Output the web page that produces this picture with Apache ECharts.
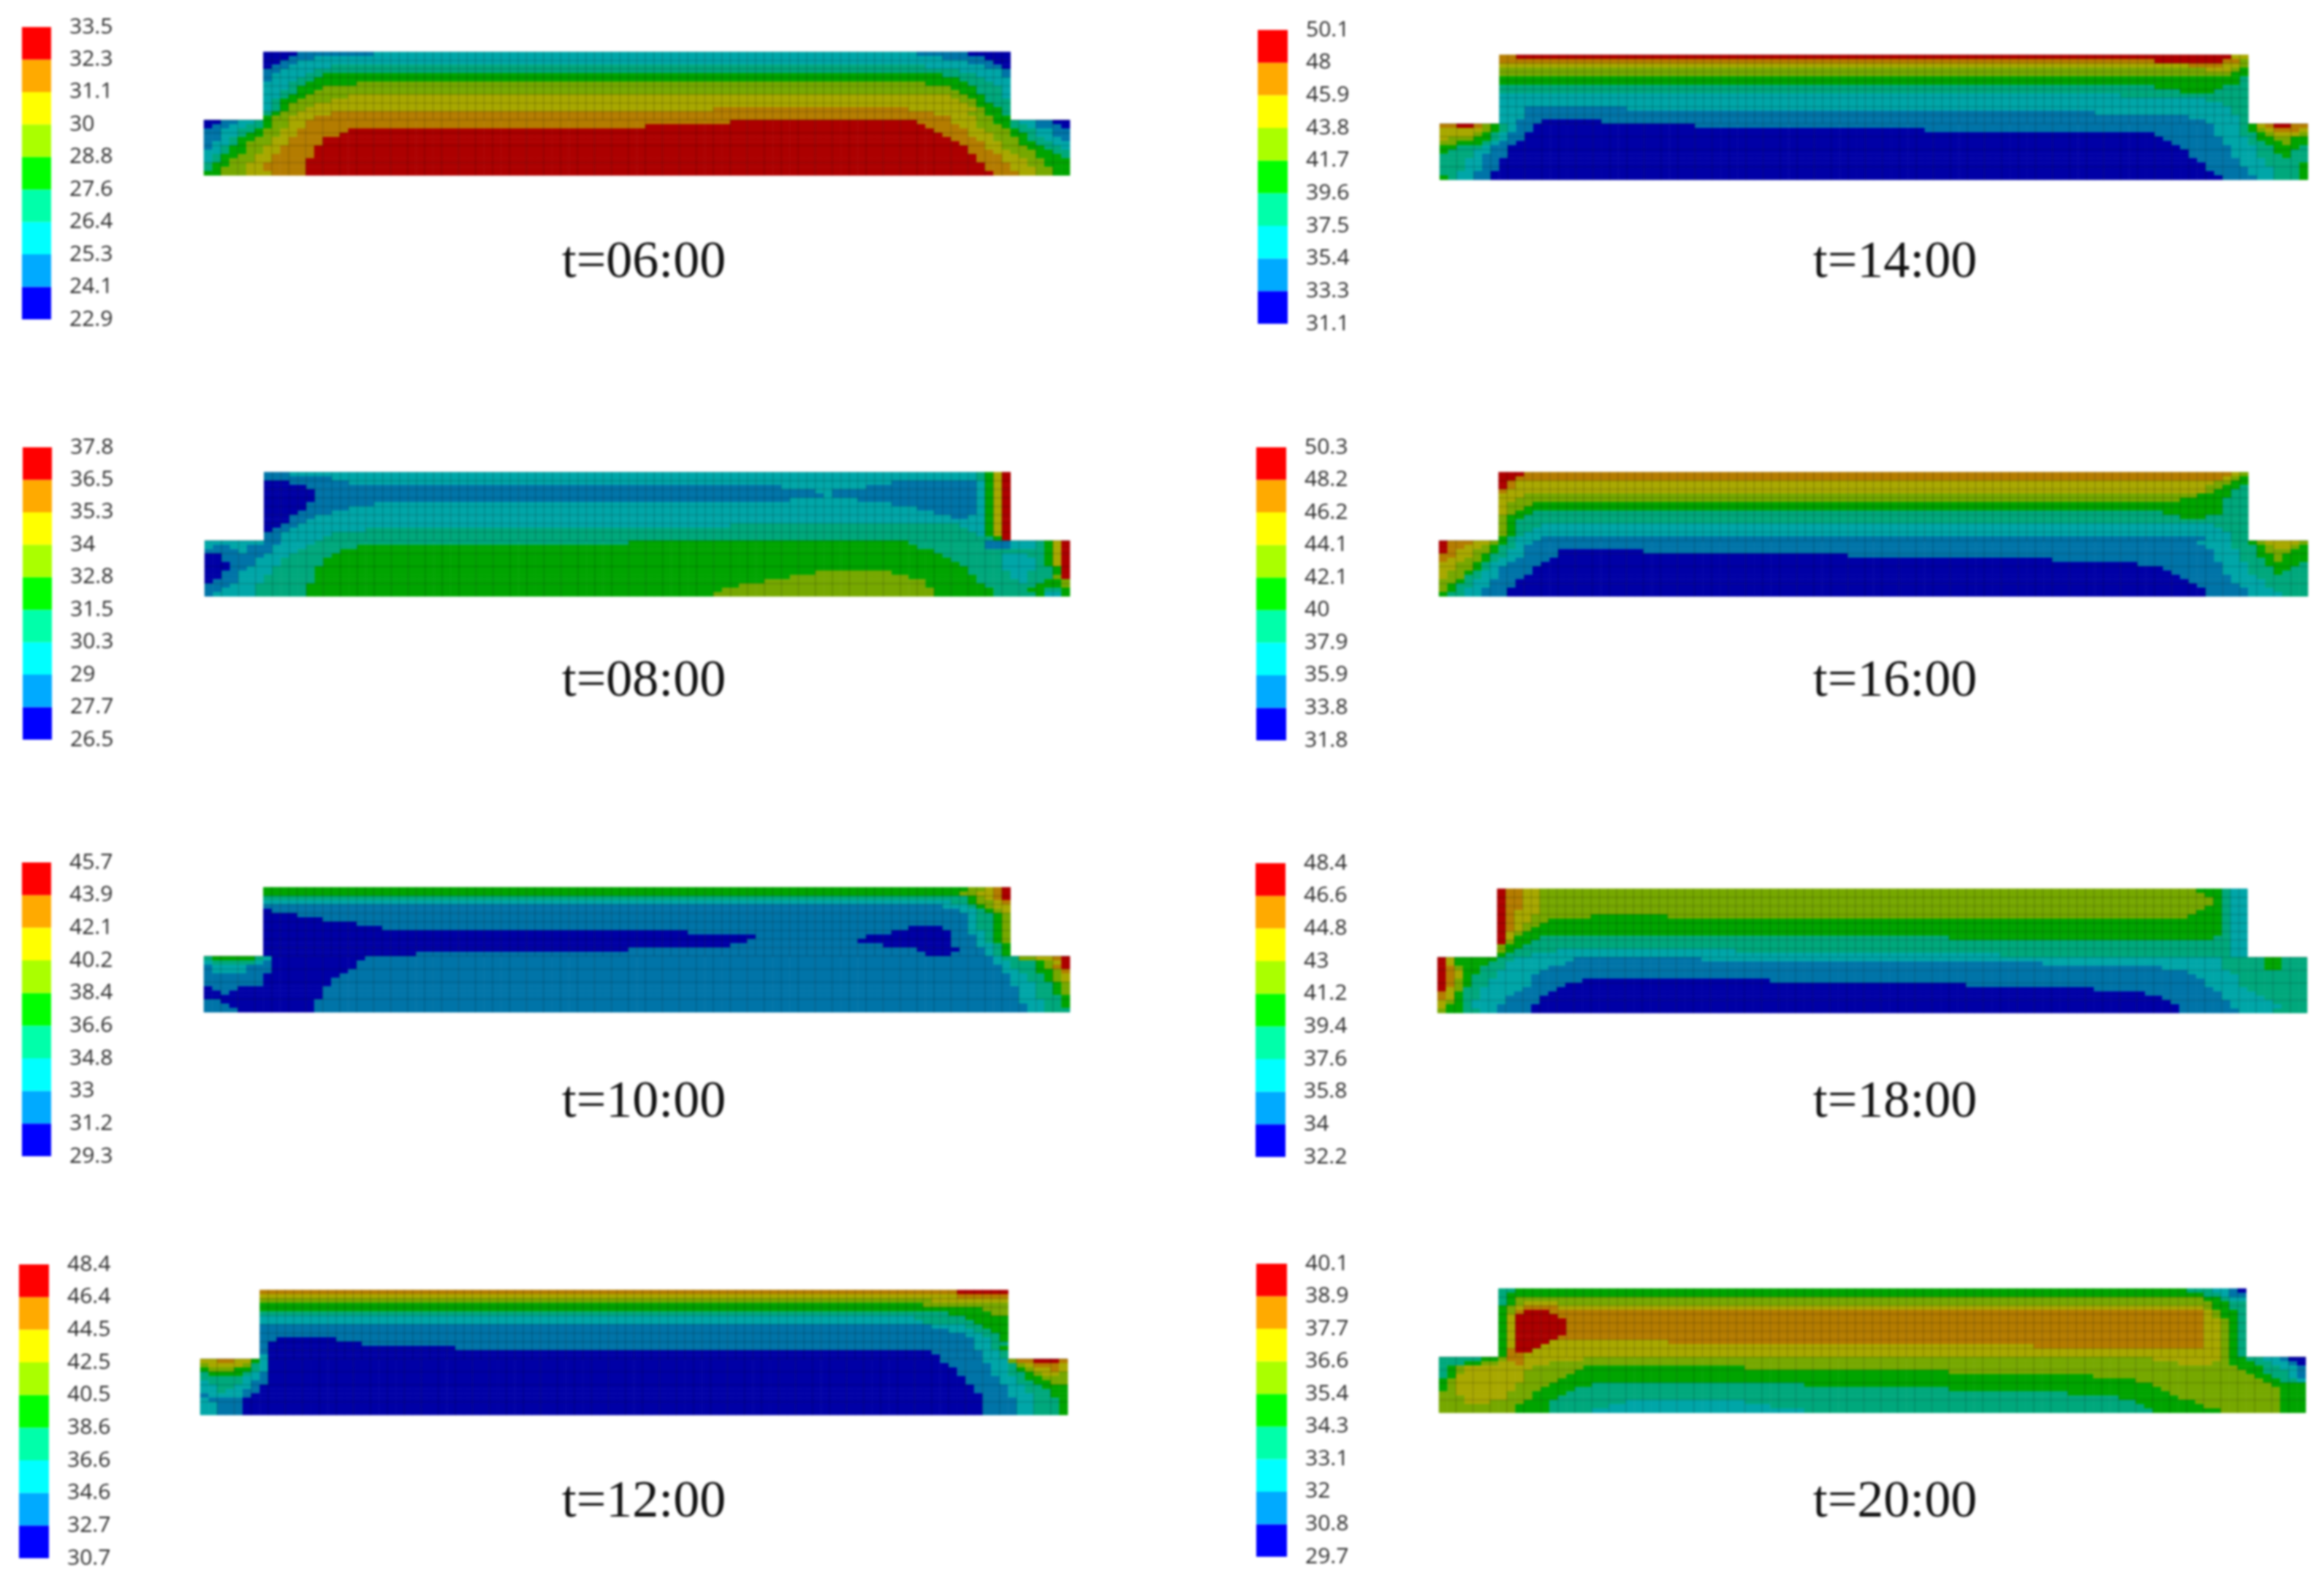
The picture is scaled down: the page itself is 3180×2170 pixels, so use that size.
<!DOCTYPE html>
<html><head><meta charset="utf-8">
<style>html,body{margin:0;background:#fff}#c{width:3180px;height:2170px;filter:blur(1.5px)}</style>
<script src="https://cdn.jsdelivr.net/npm/echarts@6/dist/echarts.min.js"></script>
</head><body><div id="c"></div>
<script>
// Each field is 29 rows of 102 cells. A row reads "band end band end ... band":
// contour band index (0 = coolest) and the column where that band stops.
const field0600=[
"0 11 1 20 2 84 1 90 0","0 10 1 13 2 87 1 92 0","0 9 1 11 2 90 1 93 0","0 8 1 10 2 15 3 85 2 92 1 94 0",
"1 9 2 13 3 89 2 94 1","1 8 2 12 3 14 4 87 3 91 2 94 1","1 8 2 11 3 13 4 89 3 92 2","2 10 3 12 4 18 5 85 4 90 3 93 2",
"2 10 3 11 4 14 5 88 4 91 3 94 2","2 9 3 11 4 13 5 89 4 91 3 94 2","2 9 3 10 4 12 5 17 6 88 5 90 4 92 3 94 2","2 8 3 9 4 11 5 15 6 89 5 91 4 92 3",
"2 8 3 9 4 10 5 13 6 90 5 91 4 93 3","2 8 3 9 4 10 5 12 6 60 7 83 6 91 5 92 4 94 3","3 8 4 9 5 11 6 15 7 86 6 90 5 92 4 94 3","4 8 5 10 6 13 7 88 6 91 5 93 4",
"0 2 1 4 2 6 3 7 4 8 5 10 6 12 7 62 8 84 7 88 6 91 5 93 4 95 3 96 2 98 1 100 0","0 1 1 3 2 5 3 7 4 8 5 10 6 12 7 52 8 85 7 89 6 91 5 94 4 95 3 97 2 98 1 101 0",
"1 2 2 4 3 6 4 7 5 9 6 11 7 17 8 86 7 90 6 92 5 95 4 96 3 98 2 100 1","1 2 2 4 3 5 4 7 5 9 6 11 7 16 8 87 7 90 6 93 5 95 4 97 3 98 2 100 1",
"1 2 2 3 3 4 4 6 5 8 6 10 7 14 8 88 7 91 6 93 5 96 4 97 3 99 2 101 1","1 1 2 3 3 4 4 5 5 8 6 10 7 14 8 89 7 92 6 94 5 96 4 98 3 100 2",
"1 1 2 2 3 3 4 5 5 7 6 9 7 13 8 90 7 92 6 94 5 97 4 99 3 101 2","2 2 3 3 4 5 5 7 6 9 7 13 8 90 7 93 6 95 5 98 4 100 3",
"2 1 3 2 4 4 5 6 6 8 7 13 8 91 7 94 6 96 5 98 4 101 3","2 1 3 2 4 3 5 6 6 8 7 12 8 91 7 94 6 97 5 99 4",
"3 1 4 3 5 5 6 7 7 12 8 92 7 95 6 97 5 99 4","3 1 4 2 5 5 6 7 7 12 8 92 7 95 6 98 5 100 4","4 2 5 5 6 8 7 12 8 93 7 96 6 98 5 100 4"];
const field0800=[
"1 10 2 91 3 92 4 93 6 94 8","1 15 2 91 3 92 4 93 6 94 8","0 10 1 17 2 81 1 91 2 92 4 93 6 94 8","0 12 1 68 2 78 1 91 2 92 4 93 6 94 8",
"0 13 1 72 2 74 1 91 2 92 4 93 6 94 8","0 13 1 73 2 74 1 91 2 92 4 93 6 94 8","0 13 1 69 2 77 1 91 2 92 4 93 6 94 8","0 12 1 20 2 81 1 91 2 92 4 93 6 94 8",
"0 12 1 17 2 84 1 91 2 92 4 93 6 94 8","0 11 1 15 2 86 1 91 2 92 4 93 6 94 8","0 10 1 13 2 88 1 90 2 92 4 93 6 94 8","0 10 1 12 2 92 4 93 6 94 8",
"0 9 1 11 2 62 3 89 2 92 4 93 6 94 8","0 8 1 10 2 19 3 90 2 92 4 93 6 94 8","1 9 2 15 3 91 2 92 4 93 6 94 8","1 9 2 14 3 93 4 94 8",
"2 7 1 9 2 13 3 50 4 83 3 92 1 95 2 98 3 99 4 100 6 101 8","2 1 1 3 2 5 1 8 2 12 3 18 4 84 3 92 1 95 2 98 3 99 4 100 6 101 8",
"1 4 2 5 1 8 2 11 3 16 4 86 3 99 4 100 6 101 8","0 2 1 7 2 10 3 15 4 87 3 94 2 97 3 99 4 100 6 101 8",
"0 2 1 6 2 9 3 14 4 88 3 94 2 98 3 99 4 100 6 101 8","0 3 1 6 2 9 3 14 4 89 3 94 2 98 3 99 4 100 6 101 8",
"0 3 1 5 2 8 3 13 4 90 3 94 2 98 3 100 4 101 8","0 2 1 4 2 8 3 13 4 72 5 81 4 90 3 95 2 97 3 100 4 101 8",
"0 2 1 4 2 7 3 13 4 69 5 83 4 91 3 95 2 97 3 100 5 101 8","0 1 1 4 2 7 3 13 4 66 5 85 4 91 3 96 2 97 3 99 4 101 5",
"1 3 2 6 3 12 4 63 5 85 4 92 3 98 4 101 5","1 2 2 6 3 12 4 61 5 86 4 93 3 97 4 99 3 101 4","1 1 2 6 3 12 4 60 5 86 4 93 3 98 4 99 2 101 4"];
const field1000=[
"4 90 5 92 6 93 7 94 8","4 89 5 91 6 93 7 94 8","3 90 4 91 5 92 6 93 7 94 8","2 88 3 90 4 91 5 93 6 94 7",
"1 87 2 90 3 91 4 92 5 93 6","0 8 1 89 2 91 3 92 4 93 5 94 6","0 11 1 90 2 91 3 93 4 94 5","0 14 1 90 2 91 3 93 4 94 5",
"0 18 1 90 2 91 3 93 4 94 5","0 21 1 83 0 87 1 90 2 91 3 93 4 94 5","0 57 1 81 0 88 1 90 2 92 3 93 4 94 5","0 65 1 78 0 88 1 91 2 92 3 93 4 94 5",
"0 64 1 77 0 88 1 91 2 92 3 93 4 94 5","0 62 1 80 0 88 1 91 2 93 3 94 4","0 50 1 84 0 89 1 92 2 93 3 94 4","0 25 1 85 0 88 1 92 2 93 3 94 4",
"3 1 4 6 3 7 2 8 0 19 1 93 2 94 3 96 5 98 6 100 7 101 8","2 1 3 6 2 7 1 8 0 18 1 93 2 95 3 98 4 99 5 100 6 101 8",
"1 1 2 5 1 8 0 18 1 94 2 95 3 98 4 99 5 100 7 101 8","1 1 2 5 1 8 0 17 1 94 2 96 3 98 4 100 5 101 7",
"1 7 0 16 1 95 2 97 3 99 4 100 5 101 6","1 7 0 15 1 95 2 97 3 99 4 100 5 101 6","1 7 0 15 1 95 2 98 3 100 4 101 5",
"0 1 1 4 0 14 1 96 2 98 3 100 4 101 5","0 2 1 3 0 14 1 96 2 98 3 100 4 101 5","0 14 1 96 2 98 3 101 4",
"1 2 0 13 1 96 2 99 3 101 4","1 3 0 13 1 97 2 99 3 101 4","1 4 0 13 1 97 2 99 3"];
const field1200=[
"7 89 8","6 89 7","5 86 6","4 85 5","4 92 5","3 88 4 93 5","2 84 3 90 4","2 85 3 91 4",
"1 86 2 90 3 92 4","1 88 2 91 3 93 4","1 90 2 92 3 94 4","1 9 0 16 1 91 2 93 3 94 4",
"1 8 0 19 1 91 2 93 3","1 8 0 30 1 91 2 93 3 94 4","1 8 0 86 1 92 2 94 3","2 8 0 87 1 92 2 94 3",
"6 2 7 4 6 6 4 7 2 8 0 87 1 92 2 95 5 96 7 98 8 101 7","5 1 6 5 5 6 3 7 2 8 0 88 1 93 2 95 3 96 5 97 6 98 7 101 6",
"4 1 5 4 4 6 3 7 2 8 0 89 1 93 2 95 3 96 4 97 5 98 6 100 7 101 6","3 1 4 5 3 6 2 7 1 8 0 89 1 93 2 95 3 97 4 98 5 99 6 101 5",
"3 5 2 7 1 8 0 90 1 94 2 96 3 97 4 99 5","2 1 3 5 2 6 1 8 0 90 1 94 2 96 3 98 4 100 5","2 2 3 4 2 6 1 7 0 91 1 95 2 97 3 99 4",
"2 2 3 3 2 5 1 7 0 91 1 95 2 97 3 100 4","1 1 2 5 1 6 0 92 1 95 2 98 3 100 4","2 1 1 5 0 92 1 96 2 98 3 101 4",
"2 2 1 5 0 92 1 96 2 98 3 101 4","2 2 1 5 0 92 1 96 2 98 3 101 4","2 2 1 5 0 92 1 96 2 98 3 101 4"];
const field1400=[
"7 9 8 93 6","7 84 8 92 7 94 5","6 88 7 92 6 94 5","5 90 6 93 5 94 4","5 93 4","4 94 3","4 94 3","3 84 4 92 3",
"3 87 4 91 3","2 80 3","2 90 3","2 92 3","2 10 1 22 2 93 3","2 10 1 77 2 93 3","2 10 1 88 2 94 3","2 9 1 12 0 19 1 90 2 94 3",
"7 2 8 4 7 5 5 6 4 7 3 8 2 9 1 11 0 30 1 91 2 94 3 95 4 96 6 97 7 98 8 100 7","6 5 5 6 4 7 3 8 2 9 1 11 0 57 1 91 2 94 3 95 4 96 5 97 6 98 7 101 6",
"6 4 5 5 4 6 3 7 2 8 1 10 0 84 1 91 2 94 3 96 4 97 5 98 6 101 5","6 1 5 4 4 6 3 7 2 8 1 10 0 85 1 92 2 95 3 96 4 98 5 100 4",
"5 2 4 5 3 6 2 7 1 9 0 86 1 92 2 95 3 97 4 99 5 100 4","4 2 3 5 2 6 1 8 0 87 1 93 2 96 3 98 4 101 3",
"4 1 3 4 2 6 1 8 0 88 1 93 2 96 3 98 4 100 3","3 4 2 5 1 8 0 88 1 93 2 96 3 99 4 100 3","3 3 2 5 1 7 0 89 1 94 2 97 3",
"3 3 2 5 1 7 0 90 1 94 2 97 3 101 4","3 3 2 5 1 7 0 90 1 95 2 98 3 101 4","3 2 2 4 1 6 0 91 1 95 2 98 3 101 4","4 1 3 2 2 4 1 6 0 92 1 96 2 98 3 101 4"];
const field1600=[
"8 10 7 93 6 94 5","8 9 7 92 6 93 5 94 4","8 8 7 9 6 91 5 93 4","8 8 7 9 6 90 5 92 4 94 3","7 8 6 90 5 91 4 93 3","6 10 5 89 4 93 3","6 9 5 87 4 92 3","6 8 5 11 4 92 3",
"6 8 5 10 4 92 3","6 8 5 9 4 11 3 85 4 92 3","5 8 4 10 3 87 4 90 3","5 8 4 9 3","5 8 4 9 3 12 2 91 3","5 8 4 9 3 11 2 92 3","5 8 4 9 3 10 2 93 3","4 8 3 9 2 12 1 90 2 93 3",
"8 1 7 4 6 6 5 7 4 8 3 9 2 11 1 89 2 93 3 95 4 96 5 97 6 101 5","8 1 7 3 6 5 5 6 4 7 3 9 2 10 1 90 2 93 3 96 4 97 5 98 6 100 5 101 4",
"8 1 7 2 6 4 5 6 4 7 3 8 2 10 1 14 0 24 1 91 2 94 3 96 4 97 5 100 4","7 2 6 4 5 5 4 6 3 8 2 10 1 14 0 48 1 91 2 94 3 96 4 98 5 99 4",
"7 1 6 3 5 5 4 6 3 7 2 9 1 13 0 72 1 91 2 94 3 97 4 98 5 99 4","6 2 5 4 4 5 3 6 2 8 1 12 0 82 1 92 2 95 3 97 4 101 3",
"6 2 5 4 4 5 3 6 2 7 1 11 0 85 1 92 2 95 3 98 4 100 3","6 1 5 3 4 4 3 5 2 7 1 11 0 86 1 92 2 95 3 98 4 99 3",
"6 1 5 3 4 3 3 5 2 7 1 10 0 87 1 93 2 96 3","5 2 4 3 3 4 2 6 1 9 0 88 1 93 2 97 3","5 1 4 2 3 4 2 6 1 9 0 89 1 94 2 97 3",
"5 1 4 2 3 3 2 5 1 8 0 90 1 95 2 98 3","4 1 3 3 2 5 1 8 0 90 1 95 2 99 3"];
const field1800=[
"8 8 7 10 6 12 5 89 4 92 3 93 2","8 8 7 10 6 12 5 90 4 92 3 93 2","8 8 7 10 6 12 5 91 4 92 3 93 2","8 8 7 10 6 12 5 91 4 92 3 93 2",
"8 8 7 10 6 12 5 90 4 92 3 93 2","8 8 7 9 6 12 5 89 4 92 3 93 2","8 8 7 9 6 11 5 18 4 27 5 88 4 92 3 93 2","8 8 7 9 6 11 5 13 4 92 3 93 2",
"8 8 7 9 6 10 5 12 4 92 3 93 2","8 8 7 9 6 10 5 11 4 92 3 93 2","8 8 6 9 5 10 4 92 3 93 2","8 8 6 9 4 12 3 60 4 91 3 93 2",
"8 8 5 9 4 11 3 93 2","5 8 4 10 3 93 2","5 8 4 9 3 14 2 35 3 93 2","4 8 3 11 2 66 3 93 2",
"8 1 6 2 4 7 3 9 2 16 1 31 2 92 3 97 4 99 3","8 1 6 2 4 6 3 8 2 15 1 71 2 92 3 97 4 99 3","8 1 7 2 5 3 4 5 3 8 2 13 1 85 2 92 3 97 4 99 3",
"8 1 7 2 6 3 4 5 3 7 2 12 1 88 2 93 3","8 1 7 2 6 3 4 4 3 7 2 11 1 89 2 94 3","8 1 7 2 5 3 4 4 3 6 2 11 1 17 0 39 1 90 2 94 3",
"8 1 7 2 5 3 4 4 3 6 2 11 1 15 0 62 1 90 2 94 3","8 1 6 2 5 3 3 5 2 10 1 14 0 77 1 91 2 95 3","7 1 6 2 4 3 3 5 2 9 1 13 0 83 1 92 2 96 3",
"7 1 6 2 4 3 3 5 2 8 1 12 0 85 1 92 2 97 3","6 1 5 2 4 3 3 4 2 8 1 12 0 86 1 93 2 98 3","6 1 4 3 3 4 2 7 1 11 0 87 1 93 2 99 3","5 1 4 3 3 5 2 7 1 11 0 87 1 94 2 98 3"];
const field2000=[
"3 9 4 88 3 91 2 93 1 94 0","3 8 4 90 3 92 2 93 1","3 8 4 9 5 90 4 92 3 93 2","3 8 4 9 5 10 6 14 5 91 4 93 3",
"4 8 5 9 6 10 7 14 6 90 5 91 4 93 3","4 8 5 9 7 10 8 13 7 90 6 91 5 92 4 94 3","4 8 6 9 8 14 7 90 6 91 5 92 4 94 3","4 8 6 9 8 15 7 90 6 92 5 93 4 94 3",
"4 8 6 9 8 15 7 90 6 92 5 93 4 94 3","4 8 6 9 8 15 7 90 6 92 5 93 4 94 3","4 8 6 9 8 15 7 90 6 92 5 93 4 94 3","4 8 6 9 8 14 7 90 6 92 5 93 4 94 3",
"4 8 6 9 8 13 6 27 7 90 6 92 5 93 4 94 3","4 8 6 9 8 12 6 70 7 90 6 92 5 93 4 94 3","4 8 7 9 8 11 6 92 5 93 4 94 3","4 8 7 10 6 92 5 93 4 94 3",
"3 5 4 7 5 8 7 10 6 17 5 84 6 92 5 93 4 95 3 97 2 99 1 100 0","3 3 4 5 5 7 6 9 7 10 6 13 5 87 6 91 5 93 4 96 3 98 2 100 1 101 0",
"3 1 4 2 5 3 6 11 5 17 4 36 5 94 4 97 3 99 2 101 1","3 1 4 2 5 3 6 10 5 16 4 60 5 95 4 97 3 100 2 101 1",
"3 1 4 2 5 2 6 10 5 15 4 77 5 96 4 98 3 100 2 101 1","4 1 5 2 6 10 5 14 4 82 5 97 4 99 3 101 2",
"4 1 5 2 6 9 5 13 4 18 3 43 4 84 5 98 4","4 1 5 2 6 9 5 12 4 16 3 60 4 85 5 99 4","5 2 6 8 5 11 4 15 3 74 4 86 5 99 4",
"5 3 6 8 5 11 4 14 3 80 4 87 5 99 4","5 3 6 6 5 10 4 13 3 22 2 36 3 82 4 89 5 99 4","5 9 4 13 3 20 2 39 3 83 4 90 5 99 4","5 9 4 13 3 18 2 43 3 84 4 92 5 99 4"];

// Legend tick labels, bottom to top
const ticks0600=[22.9,24.1,25.3,26.4,27.6,28.8,30,31.1,32.3,33.5];
const ticks0800=[26.5,27.7,29,30.3,31.5,32.8,34,35.3,36.5,37.8];
const ticks1000=[29.3,31.2,33,34.8,36.6,38.4,40.2,42.1,43.9,45.7];
const ticks1200=[30.7,32.7,34.6,36.6,38.6,40.5,42.5,44.5,46.4,48.4];
const ticks1400=[31.1,33.3,35.4,37.5,39.6,41.7,43.8,45.9,48,50.1];
const ticks1600=[31.8,33.8,35.9,37.9,40,42.1,44.1,46.2,48.2,50.3];
const ticks1800=[32.2,34,35.8,37.6,39.4,41.2,43,44.8,46.6,48.4];
const ticks2000=[29.7,30.8,32,33.1,34.3,35.4,36.6,37.7,38.9,40.1];

const legendColors=['#0000ff','#00aaff','#00ffff','#00ffaa','#00ff00','#aaff00','#ffff00','#ffaa00','#ff0000'];
const fieldColors=['#0000a6','#0074a8','#00a6a8','#00a87c','#00a400','#76a800','#a8a800','#b47c00','#ac0000'];

const panels=[
 {t:'t=06:00',f:field0600,k:ticks0600,box:[279,71,1464,240],bar:[30,37,70,437],tx:876,ty:355},
 {t:'t=08:00',f:field0800,k:ticks0800,box:[280,646,1464,816],bar:[31,612,71,1012],tx:876,ty:928},
 {t:'t=10:00',f:field1000,k:ticks1000,box:[279,1214,1464,1385],bar:[30,1180,70,1582],tx:876,ty:1504},
 {t:'t=12:00',f:field1200,k:ticks1200,box:[274,1765,1461,1936],bar:[26,1730,67,2132],tx:876,ty:2051},
 {t:'t=14:00',f:field1400,k:ticks1400,box:[1970,75,3158,246],bar:[1721,41,1762,443],tx:2588,ty:355},
 {t:'t=16:00',f:field1600,k:ticks1600,box:[1969,646,3158,816],bar:[1719,612,1760,1013],tx:2588,ty:928},
 {t:'t=18:00',f:field1800,k:ticks1800,box:[1967,1216,3157,1386],bar:[1718,1181,1759,1583],tx:2588,ty:1504},
 {t:'t=20:00',f:field2000,k:ticks2000,box:[1969,1763,3155,1933],bar:[1719,1729,1761,2130],tx:2588,ty:2051}
];
const COLS=102,ROWS=29,UPPER=16,WEB0=7,WEB1=95;
const colCats=Array.from({length:COLS},(_,i)=>i),rowCats=Array.from({length:ROWS},(_,i)=>i);

function cells(rows,k){
  const out=[];
  rows.forEach((s,r)=>{
    const tok=s.trim().split(/\s+/).map(Number);
    const first=r<UPPER?WEB0:0,last=r<UPPER?WEB1:COLS;
    let c=first;
    for(let i=0;i<tok.length;i+=2){
      const band=tok[i],end=i+1<tok.length?Math.min(tok[i+1],last):last;
      for(;c<end;c++)out.push([c,r,(k[band]+k[band+1])/2]);
    }
  });
  return out;
}
const meshSegs=[];
for(let r=2;r<UPPER;r+=2)meshSegs.push([WEB0,r,WEB1,r]);
[UPPER,19,22,26].forEach(r=>meshSegs.push([0,r,COLS,r]));
for(let c=WEB0+1;c<WEB1;c++)meshSegs.push([c,0,c,UPPER]);
for(let c=2;c<COLS;c+=2)meshSegs.push([c,UPPER,c,ROWS]);

const grid=[],xAxis=[],yAxis=[],series=[],visualMap=[],title=[];
panels.forEach((p,i)=>{
  const g=grid.length;
  grid.push({left:p.box[0],top:p.box[1],width:p.box[2]-p.box[0],height:p.box[3]-p.box[1],containLabel:false});
  xAxis.push({type:'category',gridIndex:g,data:colCats,show:false});
  yAxis.push({type:'category',gridIndex:g,data:rowCats,inverse:true,show:false});
  const sIdx=series.length;
  series.push({type:'heatmap',xAxisIndex:g,yAxisIndex:g,data:cells(p.f,p.k),progressive:0,animation:false,
    itemStyle:{borderWidth:0},emphasis:{disabled:true},silent:true});
  visualMap.push({type:'piecewise',show:false,seriesIndex:sIdx,dimension:2,
    pieces:fieldColors.map((c,b)=>({gte:p.k[b],lt:p.k[b+1],color:c}))});
  series.push({type:'custom',xAxisIndex:g,yAxisIndex:g,data:meshSegs,silent:true,animation:false,z:5,clip:false,
    encode:{x:0,y:1},
    renderItem(_,api){
      const w=api.size([1,1]),o=api.coord([0,0]),x0=o[0]-w[0]/2,y0=o[1]-w[1]/2;
      return{type:'line',shape:{x1:x0+api.value(0)*w[0],y1:y0+api.value(1)*w[1],x2:x0+api.value(2)*w[0],y2:y0+api.value(3)*w[1]},
        style:{stroke:'rgba(0,0,0,0.17)',lineWidth:1.5}};
    }});
  const h=grid.length;
  grid.push({left:p.bar[0],top:p.bar[1],width:p.bar[2]-p.bar[0],height:p.bar[3]-p.bar[1]});
  xAxis.push({type:'value',gridIndex:h,min:0,max:1,show:false});
  yAxis.push({type:'value',gridIndex:h,min:0,max:9,interval:1,position:'right',
    axisLine:{show:false},axisTick:{show:false},splitLine:{show:false},
    axisLabel:{margin:25,fontSize:30,color:'#2a2a2a',fontFamily:'"Open Sans"',formatter:v=>String(p.k[v])}});
  series.push({type:'custom',xAxisIndex:h,yAxisIndex:h,data:legendColors.map((c,b)=>[b]),silent:true,animation:false,
    encode:{y:0},
    renderItem(_,api){
      const b=api.value(0),a=api.coord([0,b+1]),d=api.coord([1,b]);
      return{type:'rect',shape:{x:a[0],y:a[1],width:d[0]-a[0],height:d[1]-a[1]},style:{fill:legendColors[b]}};
    }});
  title.push({text:p.t,left:p.tx,top:p.ty,textAlign:'center',textVerticalAlign:'middle',
    textStyle:{fontFamily:'"Liberation Serif"',fontSize:72,fontWeight:'normal',color:'#111'}});
});
const chart=echarts.init(document.getElementById('c'),null,{renderer:'canvas'});
chart.setOption({backgroundColor:'#fff',animation:false,title,grid,xAxis,yAxis,visualMap,series});
</script></body></html>
